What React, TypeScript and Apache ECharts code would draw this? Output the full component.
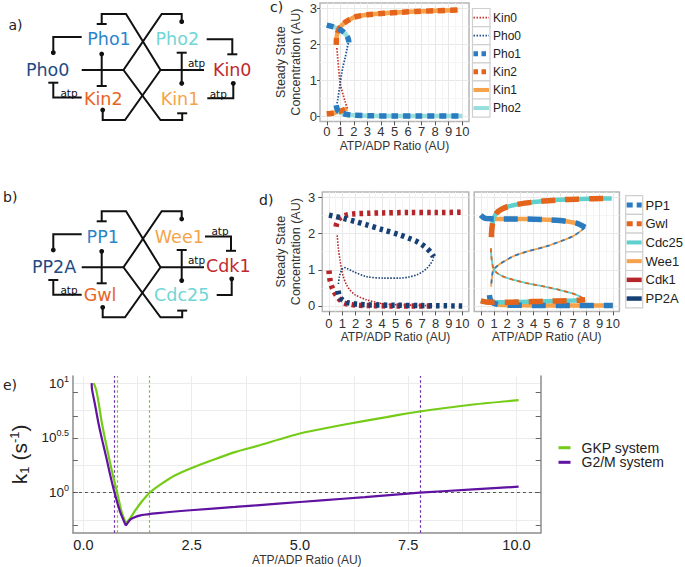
import React, { useEffect, useRef } from "react";
import * as echarts from "echarts";

// ---------------- Panel c data (x: ATP/ADP ratio, y: steady state conc.) ----------------
const C_NAMES = ["Kin0", "Pho0", "Pho1", "Kin2", "Kin1", "Pho2"];
const kinUpperC = [[0.7, 1.98], [0.72, 2.15], [0.78, 2.3], [0.9, 2.42], [1.0, 2.48], [1.2, 2.56], [1.47, 2.64], [1.8, 2.71], [2.2, 2.77], [3.0, 2.82], [4.2, 2.86], [5.5, 2.89], [6.6, 2.91], [8.0, 2.93], [9.7, 2.95]];
const kinLowerC = [[0, 0.06], [0.3, 0.07], [0.6, 0.09], [0.9, 0.12], [1.2, 0.16], [1.5, 0.21]];
const kin0UnstableC = [[1.52, 0.21], [1.35, 0.41], [1.2, 0.6], [1.1, 0.73], [1.0, 0.9], [0.93, 1.1], [0.87, 1.35], [0.82, 1.55], [0.78, 1.75], [0.74, 1.9]];
const phoUpperC = [[0, 2.53], [0.49, 2.48], [0.98, 2.41], [1.2, 2.35], [1.35, 2.3], [1.5, 2.22], [1.6, 2.13], [1.63, 2.05]];
const phoLowerC = [[0.7, 0.3], [0.75, 0.21], [0.85, 0.14], [1.0, 0.1], [1.2, 0.07], [1.5, 0.04], [2, 0.02], [3, 0.01], [5, 0.0], [7, 0.0], [10, 0.0]];
const pho0UnstableC = [[0.76, 0.35], [0.81, 0.45], [0.9, 0.68], [1.0, 0.93], [1.1, 1.19], [1.2, 1.38], [1.35, 1.61], [1.5, 1.88], [1.6, 2.05]];

// ---------------- Panel d data ----------------
const D_NAMES = ["PP1", "Gwl", "Cdc25", "Wee1", "Cdk1", "PP2A"];
const cdk1Upper = [[0.53, 2.19], [0.6, 2.3], [0.75, 2.4], [0.95, 2.46], [1.3, 2.51], [1.8, 2.54], [3, 2.56], [4, 2.57], [6, 2.58], [8, 2.58], [10, 2.59]];
const cdk1Unstable = [[0.62, 1.95], [0.7, 1.6], [0.83, 1.27], [0.95, 1.0], [1.08, 0.81], [1.3, 0.6], [1.58, 0.44], [2.0, 0.3], [2.83, 0.17], [4.08, 0.06], [5.34, 0.03], [6.5, 0.02], [7.8, 0.01]];
const cdk1Lower = [[0, 0.98], [0.08, 0.72], [0.2, 0.55], [0.33, 0.44], [0.5, 0.32], [0.63, 0.26], [0.85, 0.16], [1.08, 0.09], [1.5, 0.05], [2.08, 0.02], [3, 0.01], [5, 0.0], [7.85, 0.0]];
const pp2aUpper = [[0, 2.51], [0.5, 2.47], [1.08, 2.42], [2, 2.33], [2.83, 2.24], [4, 2.11], [5.34, 1.96], [6.0, 1.87], [6.59, 1.78], [7.0, 1.69], [7.35, 1.59], [7.65, 1.48], [7.85, 1.36]];
const pp2aUnstable = [[7.85, 1.36], [7.8, 1.27], [7.6, 1.15], [7.35, 1.04], [7.0, 0.94], [6.6, 0.86], [6.0, 0.8], [5.34, 0.77], [4.1, 0.77], [2.83, 0.81], [1.83, 0.95], [1.4, 1.03], [1.2, 1.06], [1.05, 1.04], [0.95, 0.99], [0.85, 0.9], [0.78, 0.8], [0.7, 0.58]];
const pp2aLower = [[0.68, 0.42], [0.75, 0.3], [0.85, 0.22], [1.08, 0.15], [1.4, 0.09], [2.1, 0.05], [3, 0.03], [5, 0.02], [7, 0.01], [10, 0.0]];
const pp1Upper = [[0, 2.51], [0.15, 2.46], [0.35, 2.42], [0.7, 2.41], [1, 2.4], [2, 2.4], [3.5, 2.4], [5, 2.38], [6, 2.36], [6.8, 2.32], [7.3, 2.28], [7.65, 2.22], [7.9, 2.17]];
const pp1Unstable = [[7.9, 2.17], [7.5, 2.05], [7, 1.93], [6, 1.78], [5, 1.65], [3.48, 1.5], [2.5, 1.38], [1.71, 1.22], [1.3, 1.12], [0.95, 0.99], [0.85, 0.8], [0.78, 0.53]];
const pp1Lower = [[0.65, 0.3], [0.7, 0.2], [0.8, 0.12], [1.0, 0.07], [1.46, 0.03], [2, 0.02], [4, 0.015], [7, 0.01], [10, 0.01]];
const gwlUpper = [[0.8, 1.9], [0.83, 2.1], [0.9, 2.3], [1.0, 2.45], [1.2, 2.57], [1.46, 2.65], [2, 2.74], [2.98, 2.82], [4, 2.87], [4.74, 2.9], [6, 2.93], [7.27, 2.95], [8.5, 2.96], [9.92, 2.97]];
const gwlUnstable = [[0.76, 1.59], [0.82, 1.3], [0.95, 1.04], [1.2, 0.92], [1.71, 0.81], [2.5, 0.72], [3.48, 0.63], [5, 0.52], [6, 0.44], [7, 0.34], [7.52, 0.26], [7.9, 0.17]];
const gwlLower = [[0, 0.14], [0.4, 0.11], [1, 0.1], [2, 0.1], [3, 0.11], [4, 0.12], [5, 0.13], [6, 0.14], [7, 0.15], [7.5, 0.16], [7.9, 0.17]];

// ---------------- Panel e data (y: log10 of k1) ----------------
const E_NAMES = ["GKP system", "G2/M system"];
const gkpLogK1Left = [[0.24, 1.0], [0.3, 0.93], [0.36, 0.8], [0.42, 0.65], [0.5, 0.49], [0.59, 0.32], [0.68, 0.16], [0.78, 0.0], [0.875, -0.165], [0.98, -0.28]];
const gkpLogK1Right = [[0.98, -0.28], [1.1, -0.22], [1.2, -0.16], [1.35, -0.08], [1.53, 0], [1.8, 0.08], [2.1, 0.155], [2.5, 0.225], [3.0, 0.3], [3.5, 0.37], [4.0, 0.425], [5.0, 0.54], [6.0, 0.62], [7.0, 0.69], [7.5, 0.725], [8.0, 0.755], [9.0, 0.805], [10.05, 0.844]];
const g2mLogK1Left = [[0.19, 1.0], [0.2, 0.94], [0.27, 0.8], [0.35, 0.63], [0.44, 0.47], [0.53, 0.32], [0.62, 0.16], [0.72, 0.0], [0.84, -0.165], [0.98, -0.3]];
const g2mLogK1Right = [[0.98, -0.3], [1.05, -0.26], [1.12, -0.235], [1.34, -0.205], [1.72, -0.186], [2.47, -0.16], [3.5, -0.13], [4.5, -0.1], [5.5, -0.07], [6.5, -0.04], [7.77, 0.0], [9.0, 0.03], [10.05, 0.055]];
const gkpThresholds = [0.78, 1.53];
const g2mThresholds = [0.72, 7.77];
const unitLogK1 = [0];

// ---------------- Axis ticks ----------------
const RATIO_TICKS = [0, 1, 2, 3, 4, 5, 6, 7, 8, 9, 10];
const RATIO_MINOR = [0.5, 1.5, 2.5, 3.5, 4.5, 5.5, 6.5, 7.5, 8.5, 9.5];
const CONC_TICKS = [0, 1, 2, 3];
const CONC_MINOR = [0.5, 1.5, 2.5];
const E_RATIO_TICKS = [0, 2.5, 5, 7.5, 10];
const E_RATIO_GRID = [0, 1.25, 2.5, 3.75, 5, 6.25, 7.5, 8.75, 10];
const E_LOG_LABELS = [0, 0.5, 1];
const E_LOG_GRID = [-0.25, 0, 0.25, 0.5, 0.75, 1];
const E_LOG_TICKS = [-0.3, 0, 0.3, 0.5, 0.7, 0.92];

// ---------------- Network diagrams ----------------
const A_NODES = ["Pho1", "Pho2", "Pho0", "Kin0", "Kin2", "Kin1"];
const B_NODES = ["PP1", "Wee1", "PP2A", "Cdk1", "Gwl", "Cdc25"];

const FONT = '"Liberation Sans", Arial, Helvetica, sans-serif';
const DFONT = '"DejaVu Sans", Verdana, sans-serif';

const COL = {
  red: "#c9352d", navy: "#1d4f91", blue: "#2a7bbf", orange: "#e4641c", lorange: "#f5a24a", lcyan: "#97dedd",
  cyan: "#5ed0cd", dred: "#b5252a", dnavy: "#163f75", green: "#74cc16", purple: "#6012a0",
  greenDash: "#6cc81e", purpleDash: "#6a2aa8",
};

function ln(xi: number, yi: number, data: number[][], color: string, width: number, dash: any, z: number) {
  return {
    type: "line", xAxisIndex: xi, yAxisIndex: yi, data, showSymbol: false, symbol: "none",
    smooth: 0.3, clip: false, silent: true, z,
    lineStyle: { color, width, type: dash || "solid", cap: "butt" },
  };
}

function mainX(gridIndex: number, labelMargin: number, nameGap: number) {
  return {
    type: "value", gridIndex, min: -0.5, max: 10.5,
    axisLine: { show: false, onZero: false },
    axisTick: { show: true, customValues: RATIO_TICKS, length: 4, lineStyle: { color: "#555", width: 1 } },
    axisLabel: { customValues: RATIO_TICKS, margin: labelMargin, fontSize: 13, color: "#333", fontFamily: FONT },
    splitLine: { show: true, lineStyle: { color: "#e8e8e8", width: 1 } },
    name: "ATP/ADP Ratio (AU)", nameLocation: "middle", nameGap,
    nameTextStyle: { fontSize: 12, color: "#333", fontFamily: FONT },
  };
}
function minorX(gridIndex: number) {
  return {
    type: "value", gridIndex, min: -0.5, max: 10.5, position: "top",
    axisLine: { show: false, onZero: false }, axisTick: { show: false, customValues: RATIO_MINOR },
    axisLabel: { show: false }, splitLine: { show: true, lineStyle: { color: "#f2f2f2", width: 0.8 } },
  };
}
function mainY(gridIndex: number, showLabels: boolean, tickLen: number, margin: number, nameGap: number) {
  return {
    type: "value", gridIndex, min: -0.15, max: 3.15,
    axisLine: { show: false, onZero: false },
    axisTick: { show: showLabels, customValues: CONC_TICKS, length: tickLen, lineStyle: { color: "#555", width: 1 } },
    axisLabel: { show: showLabels, customValues: CONC_TICKS, margin, fontSize: 13, color: "#333", fontFamily: FONT },
    splitLine: { show: true, lineStyle: { color: "#e8e8e8", width: 1 } },
    name: showLabels ? "Steady State\nConcentration (AU)" : "",
    nameLocation: "middle", nameGap,
    nameTextStyle: { fontSize: 12.5, color: "#333", fontFamily: FONT, lineHeight: 15 },
  };
}
function minorY(gridIndex: number) {
  return {
    type: "value", gridIndex, min: -0.15, max: 3.15, position: "right",
    axisLine: { show: false, onZero: false }, axisTick: { show: false, customValues: CONC_MINOR },
    axisLabel: { show: false }, splitLine: { show: true, lineStyle: { color: "#f2f2f2", width: 0.8 } },
  };
}

// ---- graphic helpers ----
const K = "#111";
function poly(pts: number[][]) {
  return { type: "polyline", shape: { points: pts }, style: { stroke: K, lineWidth: 2, fill: "none" }, silent: true };
}
function dot(x: number, y: number) {
  return { type: "circle", shape: { cx: x, cy: y, r: 2.4 }, style: { fill: K }, silent: true, z: 10 };
}
function tbar(x: number, y: number) {
  return { type: "line", shape: { x1: x - 5, y1: y, x2: x + 5, y2: y }, style: { stroke: K, lineWidth: 2 }, silent: true };
}
function txt(s: string, x: number, y: number, color: string, size: number, font = DFONT, align = "center") {
  return {
    type: "text", x, y, silent: true, z: 10,
    style: { text: s, fill: color, font: `${size}px ${font}`, textAlign: align, textVerticalAlign: "middle" },
  };
}

function diagram(names: string[], colors: string[], dy: number, variant: "a" | "b") {
  const els: any[] = [];
  const P = (pts: number[][]) => pts.map(([x, y]) => [x, y + dy]);
  els.push(poly(P([[101.7, 24], [101.7, 14], [126, 14], [160.5, 70], [125, 120], [102.7, 120], [102.7, 110]])));
  els.push(poly(P([[181.7, 21.7], [181.7, 14], [161.7, 14], [123.5, 70], [160.5, 120], [182.2, 120], [182.2, 113.3]])));
  els.push(poly(P([[81.7, 70], [123.5, 70]])));
  els.push(poly(P([[101.7, 54], [101.7, 86]])));
  els.push(poly(P([[160.5, 70], [204, 70]])));
  els.push(poly(P([[181.7, 52.7], [181.7, 83.3]])));
  els.push(poly(P([[81.7, 37], [53.3, 37], [53.3, 52.7]])));
  els.push(poly(P([[53.3, 82.7], [53.3, 97.5], [81.7, 97.5]])));
  [[102.7, 110], [181.7, 21.7], [101.7, 54], [181.7, 83.3], [53.3, 52.7]].forEach(([x, y]) => els.push(dot(x, y + dy)));
  [[101.7, 24], [182.2, 113.3], [101.7, 86], [181.7, 52.7], [53.3, 82.7]].forEach(([x, y]) => els.push(tbar(x, y + dy)));
  els.push(txt("atp", 196.5, 62.5 + dy, "#111", 10.5));
  els.push(txt("atp", 69, 92.5 + dy, "#111", 10.5));
  if (variant === "a") {
    els.push(poly(P([[206.7, 39.3], [232.3, 39.3], [232.3, 54.3]])));
    els.push(tbar(232.3, 54.3 + dy));
    els.push(poly(P([[207.3, 98.3], [233.3, 98.3], [233.3, 83.3]])));
    els.push(dot(233.3, 83.3 + dy));
    els.push(txt("atp", 218.3, 93.5 + dy, "#111", 10.5));
  } else {
    els.push(poly(P([[205, 39.3], [231, 39.3], [231, 53.5]])));
    els.push(tbar(231, 53.5 + dy));
    els.push(txt("atp", 220, 33.5 + dy, "#111", 10.5));
    els.push(poly(P([[216.7, 97.8], [231.7, 97.8], [231.7, 81.5]])));
    els.push(dot(231.7, 81.5 + dy));
  }
  const pos = variant === "a"
    ? [[109, 39.3], [177.3, 39.3], [47.7, 69.5], [232.2, 69.5], [103.3, 99], [180, 99]]
    : [[102.7, 39.5], [179.3, 39.5], [54, 70], [228.3, 69], [100, 98], [181.7, 98]];
  names.forEach((n, i) => els.push(txt(n, pos[i][0], pos[i][1] + dy, colors[i], 17.5)));
  return els;
}

function legend(names: string[], styles: any[], x0: number, y0: number, rowH: number, keyW: number, fontSize: number, textX: number) {
  const els: any[] = [];
  names.forEach((n, i) => {
    const y = y0 + i * rowH;
    const s = styles[i];
    els.push({ type: "rect", shape: { x: x0, y, width: keyW, height: rowH }, style: { fill: "#fff", stroke: "#cfcfcf", lineWidth: 1.2 }, silent: true });
    const ls: any = { stroke: s.color, lineWidth: s.width };
    if (s.dash) ls.lineDash = s.dash;
    els.push({ type: "line", shape: { x1: x0 + 1, y1: y + rowH / 2, x2: x0 + keyW - 1, y2: y + rowH / 2 }, style: ls, silent: true });
    els.push(txt(n, textX, y + rowH / 2, "#222", fontSize, FONT, "left"));
  });
  return els;
}

function buildOption() {
  const grid = [
    { left: 320, top: 2.9, width: 149, height: 118.5, show: true, borderColor: "#b5b5b5", borderWidth: 1.5 },
    { left: 322.3, top: 191.9, width: 146.5, height: 119.5, show: true, borderColor: "#b5b5b5", borderWidth: 1.5 },
    { left: 474.2, top: 191.9, width: 145.2, height: 119.5, show: true, borderColor: "#b5b5b5", borderWidth: 1.5 },
    { left: 63.3, top: 376, width: 477.4, height: 156.7, show: false },
  ];
  const xAxis: any[] = [
    mainX(0, 4, 19), minorX(0),
    mainX(1, 6, 19), minorX(1),
    mainX(2, 6, 19), minorX(2),
    {
      type: "value", gridIndex: 3, min: -0.242, max: 10.56,
      axisLine: { show: true, onZero: false, lineStyle: { color: "#8c8c8c", width: 1.5 } },
      axisTick: { show: false, customValues: E_RATIO_TICKS },
      axisLabel: { customValues: E_RATIO_TICKS, margin: 5, fontSize: 14.5, color: "#222", fontFamily: FONT, formatter: (v: number) => v.toFixed(1) },
      splitLine: { show: false },
      name: "ATP/ADP Ratio (AU)", nameLocation: "middle", nameGap: 20,
      nameTextStyle: { fontSize: 12, color: "#333", fontFamily: FONT },
    },
    {
      type: "value", gridIndex: 3, min: -0.242, max: 10.56, position: "top",
      axisLine: { show: false, onZero: false }, axisTick: { show: false, customValues: E_RATIO_GRID },
      axisLabel: { show: false }, splitLine: { show: true, lineStyle: { color: "#ececec", width: 1 } },
    },
  ];
  const yAxis: any[] = [
    mainY(0, true, 3, 3, 17), minorY(0),
    mainY(1, true, 4, 7, 19), minorY(1),
    mainY(2, false, 4, 7, 19), minorY(2),
    {
      type: "value", gridIndex: 3, min: -0.365, max: 1.065,
      axisLine: { show: true, onZero: false, lineStyle: { color: "#8c8c8c", width: 1.5 } },
      axisTick: { show: true, inside: true, customValues: E_LOG_TICKS, length: 5, lineStyle: { color: "#666" } },
      axisLabel: {
        customValues: E_LOG_LABELS, margin: 4, color: "#222", fontFamily: FONT,
        formatter: (v: number) => `{b|10}{s|${v === 0 ? "0" : v === 1 ? "1" : "0.5"}}`,
        rich: { b: { fontSize: 13.5, fontFamily: FONT, color: "#222" }, s: { fontSize: 9, fontFamily: FONT, color: "#222", padding: [0, 0, 9, 0] } },
      },
      splitLine: { show: false },
      name: "{k|k}{sub|1}{k| (s}{sup|-1}{k|)}", nameLocation: "middle", nameGap: 32,
      nameTextStyle: {
        rich: {
          k: { fontSize: 21, fontFamily: FONT, color: "#222" },
          sub: { fontSize: 13, fontFamily: FONT, color: "#222", padding: [9, 0, 0, 0] },
          sup: { fontSize: 13, fontFamily: FONT, color: "#222", padding: [0, 0, 10, 0] },
        },
      },
    },
    {
      type: "value", gridIndex: 3, min: -0.365, max: 1.065, position: "right",
      axisLine: { show: true, onZero: false, lineStyle: { color: "#8c8c8c", width: 1.5 } },
      axisTick: { show: true, inside: true, customValues: E_LOG_TICKS, length: 5, lineStyle: { color: "#666" } },
      axisLabel: { show: false }, splitLine: { show: false },
    },
    {
      type: "value", gridIndex: 3, min: -0.365, max: 1.065, position: "right", offset: 0,
      axisLine: { show: false, onZero: false }, axisTick: { show: false, customValues: E_LOG_GRID },
      axisLabel: { show: false }, splitLine: { show: true, lineStyle: { color: "#ececec", width: 1 } },
    },
  ];

  const thick = 5.5;
  const cDash = [7, 5];
  const dDash = [14, 10];
  const dot2 = [1.5, 1.5];
  const sq = [3.5, 4];
  const series: any[] = [
    ln(0, 0, kinUpperC, COL.lorange, 4.5, null, 1),
    ln(0, 0, kinLowerC, COL.lorange, 4.5, null, 1),
    ln(0, 0, phoUpperC, COL.lcyan, 4.5, null, 1),
    ln(0, 0, phoLowerC, COL.lcyan, 4.5, null, 1),
    ln(0, 0, kin0UnstableC, COL.red, 1.8, dot2, 2),
    ln(0, 0, pho0UnstableC, COL.navy, 1.8, dot2, 2),
    ln(0, 0, kinUpperC, COL.orange, thick, cDash, 3),
    ln(0, 0, kinLowerC, COL.orange, thick, cDash, 3),
    ln(0, 0, phoUpperC, COL.blue, thick, cDash, 3),
    ln(0, 0, phoLowerC, COL.blue, thick, cDash, 3),
    ln(2, 2, cdk1Unstable, COL.dred, 1.6, dot2, 2),
    ln(2, 2, pp2aUnstable, COL.dnavy, 1.6, dot2, 2),
    ln(2, 2, cdk1Upper, COL.dred, thick, sq, 3),
    ln(2, 2, cdk1Lower, COL.dred, thick, sq, 3),
    ln(2, 2, pp2aUpper, COL.dnavy, thick, sq, 3),
    ln(2, 2, pp2aLower, COL.dnavy, thick, sq, 3),
    ln(4, 4, pp1Upper, COL.lorange, 4.5, null, 1),
    ln(4, 4, pp1Lower, COL.lorange, 4.5, null, 1),
    ln(4, 4, pp1Unstable, COL.lorange, 1.8, null, 1),
    ln(4, 4, gwlUpper, COL.cyan, 4.5, null, 1),
    ln(4, 4, gwlLower, COL.cyan, 4.5, null, 1),
    ln(4, 4, gwlUnstable, COL.cyan, 1.8, null, 1),
    ln(4, 4, pp1Upper, COL.blue, thick, dDash, 3),
    ln(4, 4, pp1Lower, COL.blue, thick, dDash, 3),
    ln(4, 4, pp1Unstable, COL.blue, 1.8, [4, 4], 3),
    ln(4, 4, gwlUpper, COL.orange, thick, dDash, 3),
    ln(4, 4, gwlLower, COL.orange, thick, dDash, 3),
    ln(4, 4, gwlUnstable, COL.orange, 1.8, [4, 4], 3),
  ];
  const eLine = (data: number[][], color: string, mark?: any) => {
    const s: any = ln(6, 6, data, color, 2.2, null, 5);
    s.smooth = 0.25;
    s.clip = true;
    if (mark) s.markLine = mark;
    return s;
  };
  const vMark = (vals: number[], color: string) => ({
    silent: true, symbol: ["none", "none"], label: { show: false }, animation: false,
    lineStyle: { color, type: [2.5, 2.5], width: 1.2 },
    data: vals.map((v) => ({ xAxis: v, lineStyle: { color, type: [2.5, 2.5], width: 1.2 } })),
  });
  series.push(eLine(gkpLogK1Left, COL.green));
  series.push(eLine(gkpLogK1Right, COL.green, vMark(gkpThresholds, COL.greenDash)));
  series.push(eLine(g2mLogK1Left, COL.purple, vMark(g2mThresholds, COL.purpleDash)));
  const hm: any = {
    silent: true, symbol: ["none", "none"], label: { show: false }, animation: false,
    lineStyle: { color: "#555", type: [3, 3], width: 1 },
    data: unitLogK1.map((v) => ({ yAxis: v, lineStyle: { color: "#555", type: [3, 3], width: 1 } })),
  };
  series.push(eLine(g2mLogK1Right, COL.purple, hm));

  const cStyles = [
    { color: COL.red, width: 1.8, dash: [1.5, 1.5] },
    { color: COL.navy, width: 1.8, dash: [1.5, 1.5] },
    { color: COL.blue, width: 5, dash: [4.5, 3.5] },
    { color: COL.orange, width: 5, dash: [4.5, 3.5] },
    { color: COL.lorange, width: 4 },
    { color: COL.lcyan, width: 4 },
  ];
  const dStyles = [
    { color: COL.blue, width: 5, dash: [6, 4] },
    { color: COL.orange, width: 5, dash: [6, 4] },
    { color: COL.cyan, width: 4 },
    { color: COL.lorange, width: 4 },
    { color: COL.dred, width: 4.5 },
    { color: COL.dnavy, width: 4.5 },
  ];
  const nodeColorsA = ["#2a86cc", "#6fd6d6", "#1f4b82", "#c0282d", "#e8641e", "#f5a449"];
  const nodeColorsB = ["#2a86cc", "#f5a449", "#1f4b82", "#c0282d", "#e8641e", "#6fd6d6"];

  const elements: any[] = [
    ...diagram(A_NODES, nodeColorsA, 0, "a"),
    ...diagram(B_NODES, nodeColorsB, 197.3, "b"),
    ...legend(C_NAMES, cStyles, 472.5, 8.5, 18.1, 17.5, 12, 493),
    ...legend(D_NAMES, dStyles, 625.7, 195.7, 18.7, 17, 13, 645.5),
    txt("a)", 8.5, 25, "#222", 14, DFONT, "left"),
    txt("b)", 3, 197, "#222", 14, DFONT, "left"),
    txt("c)", 270, 7, "#222", 14, DFONT, "left"),
    txt("d)", 259, 200, "#222", 14, DFONT, "left"),
    txt("e)", 3, 385, "#222", 14, DFONT, "left"),
  ];
  E_NAMES.forEach((n, i) => {
    const y = 447.7 + i * 14.6;
    const c = i === 0 ? COL.green : COL.purple;
    elements.push({ type: "line", shape: { x1: 558.5, y1: y, x2: 570.5, y2: y }, style: { stroke: c, lineWidth: 3 }, silent: true });
    elements.push(txt(n, 581.5, y, "#222", 14, FONT, "left"));
  });

  return {
    animation: false,
    backgroundColor: "#ffffff",
    textStyle: { fontFamily: FONT },
    grid, xAxis, yAxis, series,
    graphic: { elements },
  };
}

export default function App() {
  const ref = useRef<HTMLDivElement>(null);
  useEffect(() => {
    const chart = echarts.init(ref.current as HTMLDivElement, null, { renderer: "svg" });
    chart.setOption(buildOption() as any);
    return () => chart.dispose();
  }, []);
  return <div ref={ref} style={{ position: "fixed", left: 0, top: 0, width: 685, height: 567, background: "#fff" }} />;
}
